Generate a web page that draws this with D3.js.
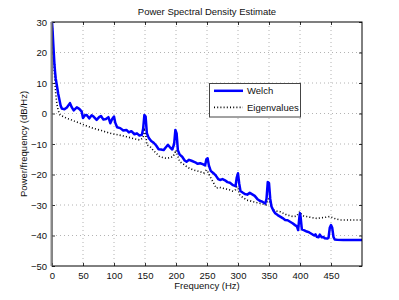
<!DOCTYPE html>
<html>
<head>
<meta charset="utf-8">
<script src="https://cdn.jsdelivr.net/npm/d3@7"></script>
<style>
  body { margin: 0; background: #fff; }
  svg { display: block; font-family: "Liberation Sans", Arial, sans-serif; }
</style>
</head>
<body>
<svg id="canvas" width="399" height="300"></svg>
<script>
// datos
const welchFreq = [0,1,2,3,4,5,6,8,10,12,14,16,20,24,29,32,35,40,44,48,50,53,56,60,64,67,72,76,79,83,87,91,94,97,100,102,105,110,115,120,124,128,133,137,141,145,147,149,151,153,156,160,164,168,172,176,180,184,187,190,194,197,199,201,203,206,210,214,217,221,225,231,235,239,243,247,249,251,253,256,260,264,268,271,275,279,283,287,292,296,298,300,302,304,308,311,315,319,323,327,331,335,340,344,346,348,350,352,354,357,360,364,368,372,376,380,384,388,392,395,397,399,400,401,403,407,411,415,419,423,425,427,430,432,435,438,440,444,446,448,450,452,454,456,460,470,480,490,500]
const welchDb = [30,27,23,19.5,16,13.5,11.5,9,6.5,4.5,2.5,1.6,1.4,2,3.4,2,1,2,1.5,0.6,-1.5,-0.6,-0.5,-1.6,-0.6,-1,-2.1,-1.2,-0.8,-2,-1.8,-1.2,-3.2,-1.8,-1,-3,-4.5,-4.8,-5.6,-5.4,-6.2,-5.8,-6.8,-6.5,-7.2,-7,-5,-0.5,-1,-6.5,-8,-9,-9.6,-10.5,-11.7,-11.8,-12,-11,-10.3,-11,-11.8,-10,-5.4,-6.5,-12,-13.5,-14.2,-15.4,-15.8,-15.2,-15.5,-16,-16.5,-16.3,-16.6,-17,-15,-14.7,-17,-18.8,-19.5,-20.3,-21.5,-21.8,-21.5,-21.9,-22.5,-22.7,-23.5,-23.8,-21,-19.6,-23,-25.4,-26,-26.4,-26.6,-26,-26.5,-27,-28,-28.6,-29,-29.5,-28,-22.5,-22.8,-28,-30.5,-31.8,-32.7,-33.3,-33.8,-34.3,-34.9,-35,-35.5,-36,-36.6,-37,-38.2,-34,-32.7,-34,-38,-38.3,-38.7,-39,-39.5,-40,-39.6,-40.4,-40.6,-39.7,-40.6,-40.5,-40.9,-41,-40.8,-37.5,-36.6,-37.5,-40.5,-41.3,-41.4,-41.5,-41.5,-41.5,-41.5]

const eigFreq = [0,1,2,3,4,5,6,8,10,13,18,24,30,36,45,55,67,80,94,107,120,131,142,147,149,151,153,158,163,168,174,180,185,190,195,198,200,202,206,212,217,222,228,234,239,245,249,251,255,260,265,270,276,282,287,292,296,298,300,302,306,310,314,319,324,330,335,340,345,348,350,352,357,362,368,374,379,384,389,395,398,400,402,406,411,418,427,435,442,448,452,458,465,475,485,500]
const eigDb = [30,26,21,17,13,9.5,6.5,3,1,-0.5,-1,-1.6,-2,-2.5,-3.2,-4,-4.9,-5.6,-6.5,-7,-7.6,-8.2,-8.7,-8,-5.5,-6.5,-10.3,-10.8,-12,-13,-14.2,-14.5,-14.7,-14.5,-14.2,-13,-12,-13.5,-15.8,-16.6,-17.4,-18,-18.5,-18.8,-19.1,-19.5,-18.5,-19,-20.7,-22.5,-24.5,-24.2,-24.5,-24.8,-25.1,-25.5,-25,-24,-24.2,-26.5,-27.3,-27.8,-28.4,-28.6,-28.9,-29.2,-29.4,-29.7,-30,-28.5,-28,-29.5,-31.6,-32,-32.2,-32.8,-33.3,-33.5,-33.8,-33.6,-32.5,-32.2,-33,-33.6,-33.8,-34.1,-34.4,-34.2,-34,-33.8,-34.1,-34.6,-34.9,-34.9,-34.9,-34.9]

const xTicks = [0,50,100,150,200,250,300,350,400,450]
const yTicks = [-50,-40,-30,-20,-10,0,10,20,30]
const seriesNames = ["Welch", "Eigenvalues"]

const canvas = d3.select("#canvas")
const m = {left: 52, top: 22, w: 310, h: 244}
const fs = "9.5px"

const x = d3.scaleLinear().domain([0, 500]).range([m.left, m.left + m.w])
const y = d3.scaleLinear().domain([-50, 30]).range([m.top + m.h, m.top])

// rejilla punteada
const grid = canvas.append("g").attr("stroke", "#a0a0a0").attr("stroke-dasharray", "1,3").attr("stroke-width", 0.8)
grid.selectAll(".gx").data(xTicks.slice(1)).enter().append("line")
    .attr("x1", d => x(d)).attr("x2", d => x(d))
    .attr("y1", m.top).attr("y2", m.top + m.h)
grid.selectAll(".gy").data(yTicks.slice(1, -1)).enter().append("line")
    .attr("x1", m.left).attr("x2", m.left + m.w)
    .attr("y1", d => y(d)).attr("y2", d => y(d))

// ejes con ticks hacia dentro
const axB = canvas.append("g").attr("transform", "translate(0," + (m.top + m.h) + ")")
    .call(d3.axisBottom(x).tickValues(xTicks).tickSize(-3).tickPadding(6))
const axT = canvas.append("g").attr("transform", "translate(0," + m.top + ")")
    .call(d3.axisTop(x).tickValues(xTicks).tickSize(-3).tickFormat(""))
const axL = canvas.append("g").attr("transform", "translate(" + m.left + ",0)")
    .call(d3.axisLeft(y).tickValues(yTicks).tickSize(-3).tickPadding(5).tickFormat(d => d < 0 ? "\u2212" + (-d) : d))
const axR = canvas.append("g").attr("transform", "translate(" + (m.left + m.w) + ",0)")
    .call(d3.axisRight(y).tickValues(yTicks).tickSize(-3).tickFormat(""))
;[axB, axT, axL, axR].forEach(a => {
    a.selectAll(".domain").remove()
    a.selectAll("line").attr("stroke", "#000").attr("stroke-width", 0.8)
    a.selectAll("text").attr("font-size", fs).attr("fill", "#111").attr("font-family", "Liberation Sans, Arial, sans-serif")
})

const line = d3.line().x(d => x(d[0])).y(d => y(d[1]))

// Eigenvalues (punteada negra)
canvas.append("path")
    .datum(eigFreq.map((f, i) => [f, eigDb[i]]))
    .attr("d", line)
    .attr("fill", "none").attr("stroke", "#000")
    .attr("stroke-width", 1.6).attr("stroke-dasharray", "1,2.2")

// Welch (azul)
canvas.append("path")
    .datum(welchFreq.map((f, i) => [f, welchDb[i]]))
    .attr("d", line)
    .attr("fill", "none").attr("stroke", "#0000ff")
    .attr("stroke-width", 2.5).attr("stroke-linejoin", "round")

// marco
canvas.append("rect")
    .attr("x", m.left).attr("y", m.top).attr("width", m.w).attr("height", m.h)
    .attr("fill", "none").attr("stroke", "#000").attr("stroke-width", 1)
canvas.append("line")
    .attr("x1", m.left - 0.5).attr("x2", m.left - 0.5)
    .attr("y1", m.top).attr("y2", m.top + m.h)
    .attr("stroke", "#888").attr("stroke-width", 2)

// leyenda
const leg = canvas.append("g").attr("transform", "translate(209.5,83.5)")
leg.append("rect").attr("width", 91).attr("height", 33.5)
    .attr("fill", "#fff").attr("stroke", "#444").attr("stroke-width", 1)
const styles = [
    {stroke: "#0000ff", w: 2.5, dash: null},
    {stroke: "#000", w: 1.6, dash: "1,2.2"}
]
seriesNames.forEach((name, i) => {
    const yy = 7.3 + i * 16.6
    leg.append("line").attr("x1", 4.5).attr("x2", 33.5).attr("y1", yy).attr("y2", yy)
        .attr("stroke", styles[i].stroke).attr("stroke-width", styles[i].w)
        .attr("stroke-dasharray", styles[i].dash)
    leg.append("text").attr("x", 37.5).attr("y", yy).attr("dy", "0.35em")
        .attr("font-size", fs).attr("fill", "#111").text(name)
})

// titulos
canvas.append("text").attr("x", m.left + m.w / 2).attr("y", 12).attr("dy", "0.35em")
    .attr("text-anchor", "middle").attr("font-size", fs).attr("fill", "#111")
    .text("Power Spectral Density Estimate")
canvas.append("text").attr("x", m.left + m.w / 2).attr("y", 286).attr("dy", "0.35em")
    .attr("text-anchor", "middle").attr("font-size", fs).attr("fill", "#111")
    .text("Frequency (Hz)")
canvas.append("text").attr("transform", "translate(24," + (m.top + m.h / 2) + ") rotate(-90)")
    .attr("dy", "0.35em")
    .attr("text-anchor", "middle").attr("font-size", fs).attr("fill", "#111")
    .text("Power/frequency (dB/Hz)")
</script>
</body>
</html>
